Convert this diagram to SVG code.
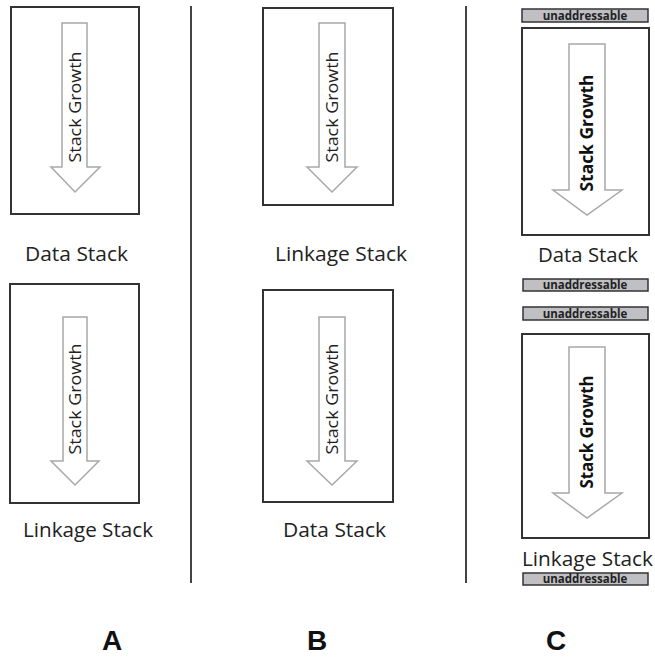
<svg xmlns="http://www.w3.org/2000/svg" width="655" height="658" viewBox="0 0 655 658">
  <style>
    .box { fill: #ffffff; stroke: #333333; stroke-width: 2; }
    .arrow { fill: #ffffff; stroke: #a8a8a8; stroke-width: 1.5; stroke-linejoin: miter; }
    .grow { font-family: "Open Sans", "Liberation Sans", sans-serif; font-size: 16px; fill: #222222; text-anchor: middle; }
    .grow-b { font-family: "Open Sans", "Liberation Sans", sans-serif; font-size: 17px; font-weight: bold; fill: #111111; text-anchor: middle; }
    .label { font-family: "Open Sans", "Liberation Sans", sans-serif; font-size: 20px; fill: #222222; }
    .bar { fill: #c0c0c4; stroke: #333333; stroke-width: 1.5; }
    .bar-text { font-family: "Open Sans", "Liberation Sans", sans-serif; font-size: 11.5px; font-weight: bold; fill: #222222; text-anchor: middle; }
    .col { font-family: "Liberation Sans", "Open Sans", sans-serif; font-size: 28px; font-weight: bold; fill: #111111; text-anchor: middle; }
    .divider { stroke: #444444; stroke-width: 2; }
  </style>

  <!-- column separators -->
  <g id="dividers">
    <line class="divider" x1="191" y1="6" x2="191" y2="583"/>
    <line class="divider" x1="466" y1="6" x2="466" y2="583"/>
  </g>

  <!-- Column A -->
  <g id="a-data-stack">
    <rect class="box" x="11" y="7" width="128" height="207"/>
    <polygon class="arrow" points="62,23 87,23 87,167 100,167 75,192 51,167 62,167"/>
    <text class="grow" transform="translate(81,107) rotate(-90)" textLength="111" lengthAdjust="spacingAndGlyphs">Stack Growth</text>
    <text class="label" x="25" y="261" textLength="103" lengthAdjust="spacingAndGlyphs">Data Stack</text>
  </g>
  <g id="a-linkage-stack">
    <rect class="box" x="10" y="284" width="129" height="219"/>
    <polygon class="arrow" points="63,317 87,317 87,461 99,461 75,485 51,461 63,461"/>
    <text class="grow" transform="translate(81,399) rotate(-90)" textLength="111" lengthAdjust="spacingAndGlyphs">Stack Growth</text>
    <text class="label" x="23" y="537" textLength="130" lengthAdjust="spacingAndGlyphs">Linkage Stack</text>
  </g>

  <!-- Column B -->
  <g id="b-linkage-stack">
    <rect class="box" x="263" y="8" width="130" height="197"/>
    <polygon class="arrow" points="319,23 345,23 345,167 357,167 332,192 307,167 319,167"/>
    <text class="grow" transform="translate(338,107) rotate(-90)" textLength="111" lengthAdjust="spacingAndGlyphs">Stack Growth</text>
    <text class="label" x="275" y="261" textLength="132" lengthAdjust="spacingAndGlyphs">Linkage Stack</text>
  </g>
  <g id="b-data-stack">
    <rect class="box" x="263" y="290" width="130" height="212"/>
    <polygon class="arrow" points="319,317 345,317 345,461 357,461 332,485 307,461 319,461"/>
    <text class="grow" transform="translate(338,399) rotate(-90)" textLength="111" lengthAdjust="spacingAndGlyphs">Stack Growth</text>
    <text class="label" x="283" y="537" textLength="103" lengthAdjust="spacingAndGlyphs">Data Stack</text>
  </g>

  <!-- Column C -->
  <g id="c-bar-1">
    <rect class="bar" x="522" y="9" width="126" height="13"/>
    <text class="bar-text" x="585" y="19.5">unaddressable</text>
  </g>
  <g id="c-data-stack">
    <rect class="box" x="522" y="28" width="127" height="207"/>
    <polygon class="arrow" points="569,44 605,44 605,190 622,190 587,215 553,190 569,190"/>
    <text class="grow-b" transform="translate(593,133) rotate(-90)" textLength="117" lengthAdjust="spacingAndGlyphs">Stack Growth</text>
    <text class="label" x="538" y="262" textLength="100" lengthAdjust="spacingAndGlyphs">Data Stack</text>
  </g>
  <g id="c-bar-2">
    <rect class="bar" x="523" y="279" width="125" height="12"/>
    <text class="bar-text" x="585" y="289">unaddressable</text>
  </g>
  <g id="c-bar-3">
    <rect class="bar" x="523" y="307" width="125" height="13"/>
    <text class="bar-text" x="585" y="317.5">unaddressable</text>
  </g>
  <g id="c-linkage-stack">
    <rect class="box" x="522" y="334" width="127" height="204"/>
    <polygon class="arrow" points="569,347 605,347 605,493 622,493 587,518 553,493 569,493"/>
    <text class="grow-b" transform="translate(593,432) rotate(-90)" textLength="113" lengthAdjust="spacingAndGlyphs">Stack Growth</text>
    <text class="label" x="522" y="566" textLength="131" lengthAdjust="spacingAndGlyphs">Linkage Stack</text>
  </g>
  <g id="c-bar-4">
    <rect class="bar" x="523" y="573" width="125" height="12"/>
    <text class="bar-text" x="585" y="583">unaddressable</text>
  </g>

  <!-- column captions -->
  <g id="captions">
    <text class="col" x="112" y="650">A</text>
    <text class="col" x="317" y="650">B</text>
    <text class="col" x="556" y="650">C</text>
  </g>
</svg>
